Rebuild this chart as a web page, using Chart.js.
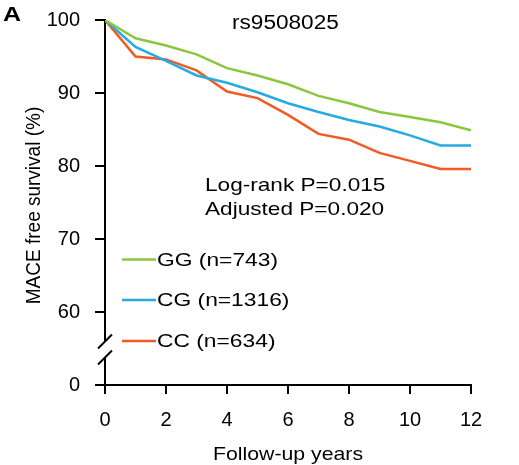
<!DOCTYPE html>
<html>
<head>
<meta charset="utf-8">
<script src="https://cdn.jsdelivr.net/npm/chart.js@4"></script>
<style>
  html, body { margin: 0; padding: 0; background: #fff; }
  #wrap { width: 519px; height: 465px; position: relative; }
</style>
</head>
<body>
<div id="wrap"><canvas id="km"></canvas></div>
<script>
// Follow-up years and MACE free survival (%) per genotype
const years = [0, 1, 2, 3, 4, 5, 6, 7, 8, 9, 10, 11, 12];
const gg = [100, 97.5, 96.5, 95.3, 93.4, 92.4, 91.2, 89.6, 88.6, 87.4, 86.7, 86.0, 84.9];
const cg = [100, 96.3, 94.4, 92.4, 91.4, 90.1, 88.6, 87.4, 86.3, 85.4, 84.2, 82.8, 82.8];
const cc = [100, 95.0, 94.6, 93.1, 90.2, 89.3, 87.0, 84.4, 83.6, 81.8, 80.7, 79.6, 79.6];
const seriesLabels = ["GG (n=743)", "CG (n=1316)", "CC (n=634)"];
const seriesColors = ["#8cc63f", "#27aae1", "#f15a24"];
const yTicks = [50, 60, 70, 80, 90, 100]; // 50 is drawn as the broken "0"
const xTicks = [0, 2, 4, 6, 8, 10, 12];

const FONT = "'Liberation Sans', Arial, sans-serif";

function toPoints(vals) {
  return years.map((y, i) => ({ x: y, y: vals[i] }));
}

// text helper, the picture is a bit stretched sideways
function stretchedText(ctx, txt, x, y, size, sx, align, bold) {
  ctx.save();
  ctx.translate(x, y);
  ctx.scale(sx, 1);
  ctx.font = (bold ? "bold " : "") + size + "px " + FONT;
  ctx.textAlign = align || "left";
  ctx.textBaseline = "alphabetic";
  ctx.fillStyle = "#000";
  ctx.fillText(txt, 0, 0);
  ctx.restore();
}

const annotations = {
  id: "annotations",
  afterDraw(chart) {
    const { ctx, chartArea, scales } = chart;
    const yAxis = scales.y;

    // axis break between 60 and 0
    const x0 = chartArea.left;
    const yb = (yAxis.getPixelForValue(60) + yAxis.getPixelForValue(50)) / 2 + 1;
    ctx.save();
    ctx.fillStyle = "#fff";
    ctx.fillRect(x0 - 5, yb - 8, 10, 16);
    ctx.strokeStyle = "#000";
    ctx.lineWidth = 2;
    ctx.beginPath();
    ctx.moveTo(x0 - 7, yb - 1);
    ctx.lineTo(x0 + 7, yb - 15);
    ctx.moveTo(x0 - 7, yb + 15);
    ctx.lineTo(x0 + 7, yb + 1);
    ctx.stroke();
    ctx.restore();

    // panel letter and titles
    stretchedText(ctx, "A", 3, 21, 20, 1.25, "left", true);
    stretchedText(ctx, "rs9508025", 232, 29, 20, 1.13, "left");
    stretchedText(ctx, "Log-rank P=0.015", 205, 191, 19, 1.19, "left");
    stretchedText(ctx, "Adjusted P=0.020", 205, 215, 19, 1.19, "left");
    stretchedText(ctx, "Follow-up years", (chartArea.left + chartArea.right) / 2, 460, 19, 1.12, "center");

    // y axis title
    ctx.save();
    ctx.translate(40, (chartArea.top + chartArea.bottom) / 2 + 3);
    ctx.rotate(-Math.PI / 2);
    ctx.scale(1, 1.1);
    ctx.font = "19px " + FONT;
    ctx.textAlign = "center";
    ctx.textBaseline = "alphabetic";
    ctx.fillStyle = "#000";
    ctx.fillText("MACE free survival (%)", 0, 0);
    ctx.restore();

    // legend
    const legendY = [259.5, 300, 341];
    chart.data.datasets.forEach((ds, i) => {
      ctx.save();
      ctx.strokeStyle = ds.borderColor;
      ctx.lineWidth = 2.5;
      ctx.beginPath();
      ctx.moveTo(122, legendY[i]);
      ctx.lineTo(156, legendY[i]);
      ctx.stroke();
      ctx.translate(157, legendY[i]);
      ctx.scale(1.2, 1);
      ctx.font = "19px " + FONT;
      ctx.textBaseline = "middle";
      ctx.fillStyle = "#000";
      ctx.fillText(ds.label, 0, 1);
      ctx.restore();
    });
  },
};

const ctx = document.getElementById("km").getContext("2d");
const chart = new Chart(ctx, {
  type: "line",
  data: {
    datasets: [
      { label: seriesLabels[0], data: toPoints(gg), borderColor: seriesColors[0] },
      { label: seriesLabels[1], data: toPoints(cg), borderColor: seriesColors[1] },
      { label: seriesLabels[2], data: toPoints(cc), borderColor: seriesColors[2] },
    ].map((d) => Object.assign(d, { borderWidth: 2.5, pointRadius: 0, tension: 0, fill: false })),
  },
  options: {
    responsive: true,
    maintainAspectRatio: false,
    animation: false,
    layout: { padding: { top: 20, right: 48, left: 0, bottom: 0 } },
    plugins: {
      legend: { display: false },
      tooltip: { enabled: false },
    },
    scales: {
      x: {
        type: "linear",
        min: 0,
        max: 12,
        afterFit(scale) {
          scale.height = 80;
          scale.paddingLeft = 0;
          scale.paddingRight = 0;
        },
        afterBuildTicks(scale) { scale.ticks = xTicks.map((v) => ({ value: v })); },
        grid: { drawOnChartArea: false, drawTicks: true, tickLength: 9, color: "#000", lineWidth: 2 },
        border: { display: true, color: "#000", width: 2 },
        ticks: { color: "#000", font: { family: FONT, size: 20 }, padding: 14, maxRotation: 0 },
      },
      y: {
        type: "linear",
        min: 50,
        max: 100,
        afterFit(scale) {
          scale.width = 105;
          scale.paddingTop = 0;
          scale.paddingBottom = 0;
        },
        afterBuildTicks(scale) { scale.ticks = yTicks.map((v) => ({ value: v })); },
        grid: { drawOnChartArea: false, drawTicks: true, tickLength: 10, color: "#000", lineWidth: 2 },
        border: { display: true, color: "#000", width: 2 },
        ticks: {
          color: "#000",
          font: { family: FONT, size: 20 },
          padding: 15,
          callback: (v) => (v === 50 ? "0" : String(v)),
        },
      },
    },
  },
  plugins: [annotations],
});
</script>
</body>
</html>
